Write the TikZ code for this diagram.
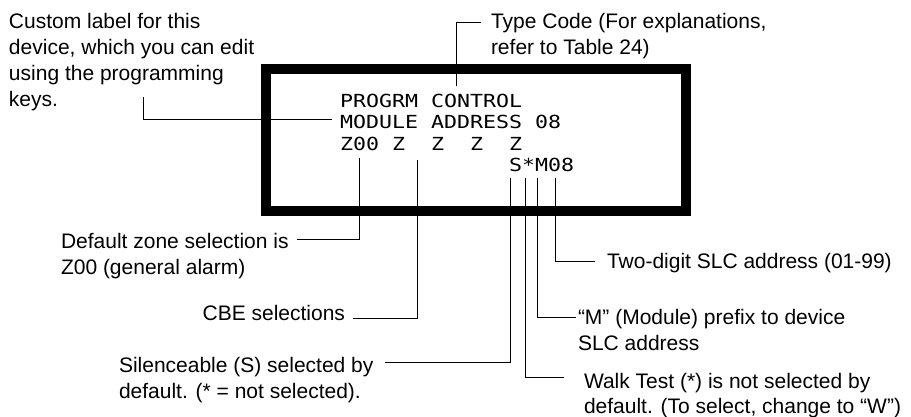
\documentclass[tikz,border=0pt]{standalone}
\usepackage{fontspec}
\setmainfont{Liberation Sans}
\newfontfamily\lcdfont[FakeStretch=1.2]{DejaVu Sans Mono}
\newcommand{\mlines}[1]{\begin{tabular}[t]{@{}l@{}}#1\end{tabular}}
\begin{document}
\begin{tikzpicture}[x=1pt,y=-1pt,
  lbl/.style={inner sep=0pt, outer sep=0pt, anchor=base west, font=\fontsize{21}{26}\selectfont},
  lcd/.style={inner sep=0pt, outer sep=0pt, anchor=base west, font=\lcdfont\fontsize{18}{21.3}\selectfont},
  frame/.style={line width=10pt, draw=black},
  conn/.style={line width=0.9pt, draw=black}]
\useasboundingbox (0,0) rectangle (911,416);

% display frame
\draw[frame] (266,69) rectangle (685.5,211);

% display text
\node[lcd] (display) at (340,107.5)
  {\mlines{PROGRM~CONTROL\\MODULE~ADDRESS~08\\Z00~Z~~Z~~Z~~Z\\~~~~~~~~~~~~~S*M08}};

% labels
\node[lbl] (custom) at (9,28) {\mlines{Custom label for this\\device, which you can edit\\using the programming\\keys.}};
\node[lbl] (typecode) at (491,28) {\mlines{Type Code (For explanations,\\refer to Table 24)}};
\node[lbl] (defzone) at (61,248) {\mlines{Default zone selection is\\Z00 (general alarm)}};
\node[lbl, anchor=base east] (cbe) at (345,320) {CBE selections};
\node[lbl] (silence) at (119,372) {\mlines{Silenceable (S) selected by\\default. (* = not selected).}};
\node[lbl] (slc) at (607,268) {Two-digit SLC address (01-99)};
\node[lbl] (module) at (578,324) {\mlines{“M” (Module) prefix to device\\SLC address}};
\node[lbl, font=\fontsize{21}{25}\selectfont] (walk) at (584,388) {\mlines{Walk Test (*) is not selected by\\default. (To select, change to “W”)}};

% connector end points
\coordinate (tcA) at (456,86);   \coordinate (tcB) at (481,22.5);
\coordinate (cuA) at (143,97);   \coordinate (cuB) at (332,119);
\coordinate (dzA) at (359,158);  \coordinate (dzB) at (297,239);
\coordinate (cbA) at (417,160);  \coordinate (cbB) at (353,318.5);
\coordinate (siA) at (510,178);  \coordinate (siB) at (385,362.5);
\coordinate (wtA) at (525,178);  \coordinate (wtB) at (564,377.5);
\coordinate (moA) at (537,178);  \coordinate (moB) at (576,317);
\coordinate (slA) at (555,178);  \coordinate (slB) at (595,261);

% connectors
\draw[conn] (tcA) |- (tcB);
\draw[conn] (cuA) |- (cuB);
\draw[conn] (dzA) |- (dzB);
\draw[conn] (cbA) |- (cbB);
\draw[conn] (siA) |- (siB);
\draw[conn] (wtA) |- (wtB);
\draw[conn] (moA) |- (moB);
\draw[conn] (slA) |- (slB);
\end{tikzpicture}
\end{document}
